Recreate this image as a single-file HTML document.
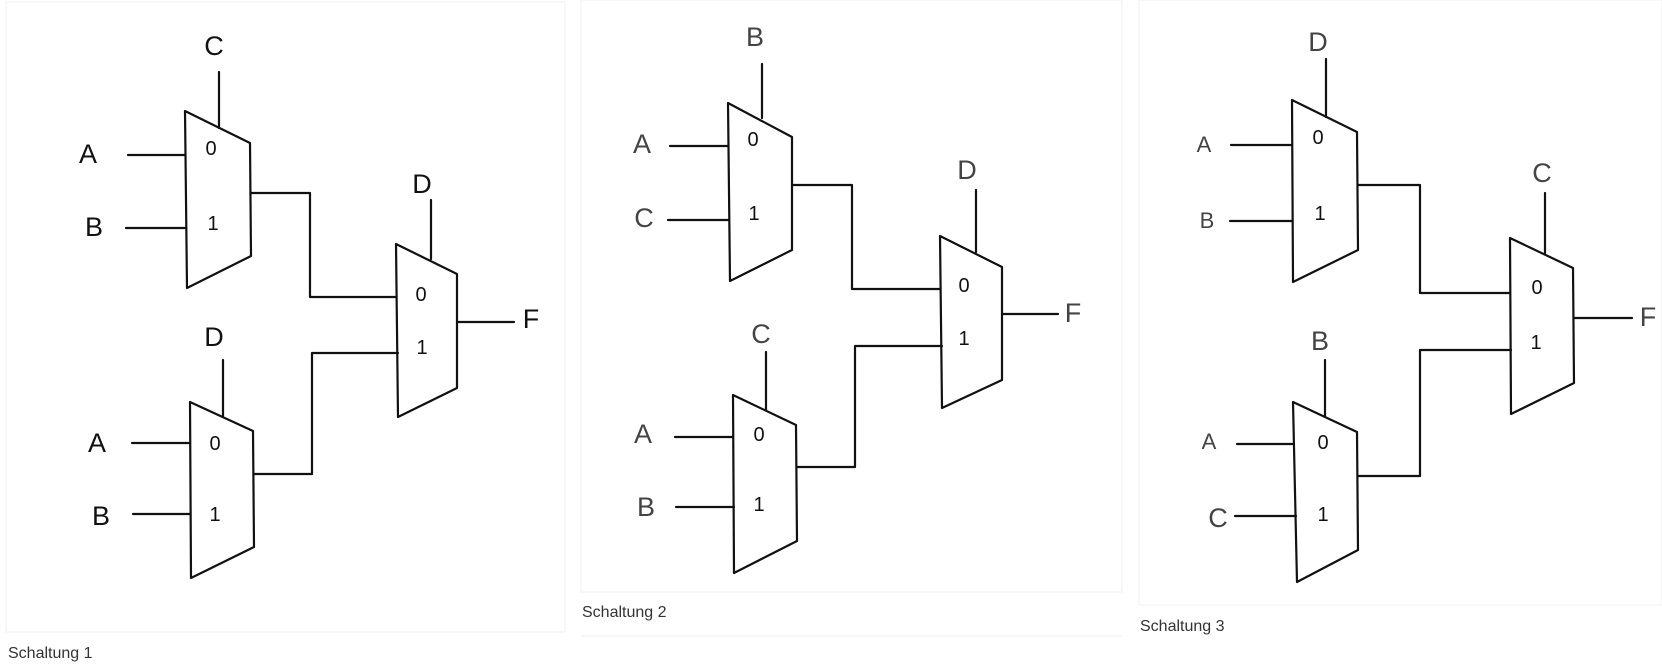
<!DOCTYPE html>
<html><head><meta charset="utf-8"><style>
html,body{margin:0;padding:0;background:#fff;width:1662px;height:668px;overflow:hidden}
svg{display:block}
.w{stroke:#111;stroke-width:2.2;fill:none;stroke-linecap:round;stroke-linejoin:round}
.lbl{font-family:"Liberation Sans",sans-serif;font-size:27px;fill:#111;text-anchor:middle}
.lt{fill:#444;font-weight:normal}
.dg{font-family:"Liberation Sans",sans-serif;font-size:20px;fill:#111;text-anchor:middle}
.cap{font-family:"Liberation Sans",sans-serif;font-size:16px;fill:#333}
</style></head><body>
<svg width="1662" height="668" viewBox="0 0 1662 668">
<rect x="6" y="2" width="559" height="630" fill="none" stroke="#f0f0f0"/>
<rect x="581" y="0" width="541" height="592" fill="none" stroke="#f0f0f0"/>
<line x1="581" y1="636" x2="1122" y2="636" stroke="#f0f0f0"/>
<rect x="1139" y="0" width="523" height="605" fill="none" stroke="#f0f0f0"/>

<g>
<polygon class="w" points="185,111 250,143 251,256 187,288"/>
<line class="w" x1="219" y1="72" x2="219" y2="128"/>
<text class="lbl" x="214" y="55">C</text>
<line class="w" x1="128" y1="155" x2="185" y2="155"/>
<text class="lbl" x="88" y="163">A</text>
<line class="w" x1="126" y1="228" x2="186" y2="228"/>
<text class="lbl" x="94" y="236">B</text>
<text class="dg" x="211" y="155">0</text><text class="dg" x="213" y="230">1</text>
<polyline class="w" points="251,193 310,193 310,297 396,297"/>
<polygon class="w" points="396,244 457,274 457,388 398,417"/>
<line class="w" x1="431" y1="200" x2="431" y2="259"/>
<text class="lbl" x="422" y="193">D</text>
<text class="dg" x="421" y="301">0</text><text class="dg" x="422" y="354">1</text>
<line class="w" x1="457" y1="322" x2="514" y2="322"/>
<text class="lbl" x="531" y="328">F</text>
<polygon class="w" points="190,402 253,431 254,547 191,578"/>
<line class="w" x1="223" y1="360" x2="223" y2="416"/>
<text class="lbl" x="214" y="346">D</text>
<line class="w" x1="132" y1="443" x2="190" y2="443"/>
<text class="lbl" x="97" y="452">A</text>
<line class="w" x1="133" y1="514" x2="190" y2="514"/>
<text class="lbl" x="101" y="525">B</text>
<text class="dg" x="215" y="450">0</text><text class="dg" x="215" y="521">1</text>
<polyline class="w" points="254,474 312,474 312,353 398,353"/>
<text class="cap" x="8" y="658">Schaltung 1</text>
</g>

<g>
<polygon class="w" points="728,103 792,137 792,250 730,281"/>
<line class="w" x1="762" y1="64" x2="762" y2="118"/>
<text class="lbl lt" x="755" y="46">B</text>
<line class="w" x1="670" y1="146" x2="728" y2="146"/>
<text class="lbl lt" x="642" y="153">A</text>
<line class="w" x1="668" y1="220" x2="729" y2="220"/>
<text class="lbl lt" x="644" y="227">C</text>
<text class="dg" x="753" y="146">0</text><text class="dg" x="754" y="220">1</text>
<polyline class="w" points="793,185 852,185 852,289 940,289"/>
<polygon class="w" points="940,236 1002,267 1002,380 942,408"/>
<line class="w" x1="976" y1="190" x2="976" y2="252"/>
<text class="lbl lt" x="967" y="179">D</text>
<text class="dg" x="964" y="292">0</text><text class="dg" x="964" y="345">1</text>
<line class="w" x1="1002" y1="314" x2="1058" y2="314"/>
<text class="lbl lt" x="1073" y="322">F</text>
<polygon class="w" points="733,395 796,425 797,541 734,573"/>
<line class="w" x1="766" y1="352" x2="766" y2="410"/>
<text class="lbl lt" x="761" y="343">C</text>
<line class="w" x1="675" y1="437" x2="733" y2="437"/>
<text class="lbl lt" x="643" y="443">A</text>
<line class="w" x1="676" y1="507" x2="734" y2="507"/>
<text class="lbl lt" x="646" y="516">B</text>
<text class="dg" x="759" y="441">0</text><text class="dg" x="759" y="511">1</text>
<polyline class="w" points="797,467 855,467 855,346 942,346"/>
<text class="cap" x="582" y="617">Schaltung 2</text>
</g>

<g>
<polygon class="w" points="1292,100 1357,132 1358,250 1293,282"/>
<line class="w" x1="1326" y1="59" x2="1326" y2="117"/>
<text class="lbl lt" x="1318" y="51">D</text>
<line class="w" x1="1231" y1="145" x2="1292" y2="145"/>
<text class="lbl lt" x="1204" y="152" style="font-size:22px">A</text>
<line class="w" x1="1230" y1="221" x2="1292" y2="221"/>
<text class="lbl lt" x="1207" y="228" style="font-size:22px">B</text>
<text class="dg" x="1318" y="144">0</text><text class="dg" x="1320" y="220">1</text>
<polyline class="w" points="1358,185 1420,185 1420,293 1510,293"/>
<polygon class="w" points="1510,238 1573,268 1574,383 1511,414"/>
<line class="w" x1="1545" y1="193" x2="1545" y2="253"/>
<text class="lbl lt" x="1542" y="182">C</text>
<text class="dg" x="1537" y="294">0</text><text class="dg" x="1536" y="349">1</text>
<line class="w" x1="1574" y1="318" x2="1632" y2="318"/>
<text class="lbl lt" x="1648" y="326">F</text>
<polygon class="w" points="1293,402 1357,432 1358,550 1297,582"/>
<line class="w" x1="1325" y1="360" x2="1325" y2="416"/>
<text class="lbl lt" x="1320" y="350">B</text>
<line class="w" x1="1237" y1="444" x2="1293" y2="444"/>
<text class="lbl lt" x="1209" y="449" style="font-size:22px">A</text>
<line class="w" x1="1235" y1="516" x2="1296" y2="516"/>
<text class="lbl lt" x="1218" y="527">C</text>
<text class="dg" x="1323" y="449">0</text><text class="dg" x="1323" y="521">1</text>
<polyline class="w" points="1358,476 1420,476 1420,350 1511,350"/>
<text class="cap" x="1140" y="631">Schaltung 3</text>
</g>
</svg>
</body></html>
